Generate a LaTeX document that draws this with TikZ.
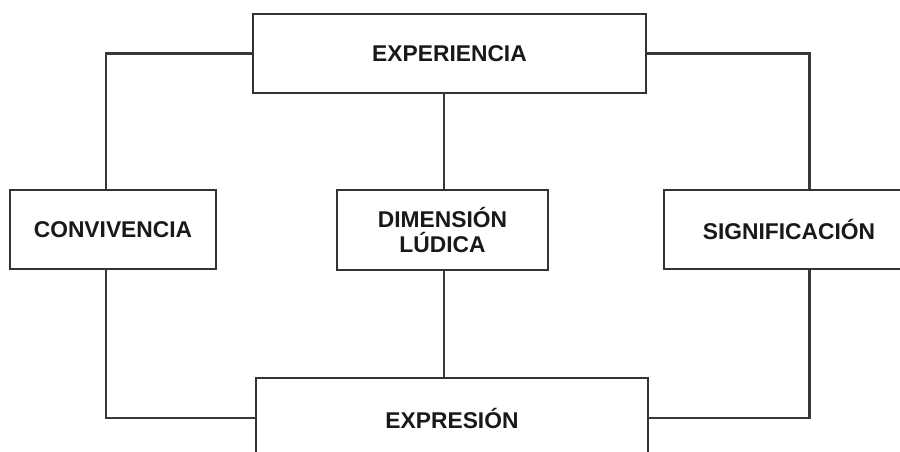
\documentclass[tikz,border=0pt]{standalone}
\usepackage{fontspec}
\setmainfont{Liberation Sans}
\begin{document}
\begin{tikzpicture}[x=1pt,y=-1pt,
  box/.style={draw=black!80, line width=2.2pt, fill=white, rectangle, inner sep=0pt,
    font=\fontsize{22.8}{25}\selectfont\bfseries, text=black!90, align=center},
  link/.style={draw=black!78, line width=2.2pt}]
\useasboundingbox (0,0) rectangle (900,451);
\fill[white] (0,0) rectangle (900,451);
\clip (0,0) rectangle (900,451);
\node[box, minimum width=393pt, minimum height=79pt] (exp) at (449.5,53.5) {EXPERIENCIA};
\node[box, minimum width=206pt, minimum height=79pt] (conv) at (113,229.5) {CONVIVENCIA};
\node[box, minimum width=211pt, minimum height=80pt] (dim) at (442.5,230) {DIMENSIÓN\\LÚDICA};
\node[box, minimum width=250pt, minimum height=79pt] (sig) at (789,229.5) {SIGNIFICACIÓN};
\node[box, minimum width=392pt, minimum height=80pt] (expr) at (452,418) {EXPRESIÓN};
\coordinate (cl) at (106,0);
\coordinate (cr) at (809.5,0);
\coordinate (cm) at (444,0);
\draw[link] (exp.west) -| (cl |- conv.north);
\draw[link] (cl |- conv.south) |- (expr.west);
\draw[link] (exp.east) -| (cr |- sig.north);
\draw[link] (cr |- sig.south) |- (expr.east);
\draw[link] (cm |- exp.south) -- (cm |- dim.north);
\draw[link] (cm |- dim.south) -- (cm |- expr.north);
\end{tikzpicture}
\end{document}
